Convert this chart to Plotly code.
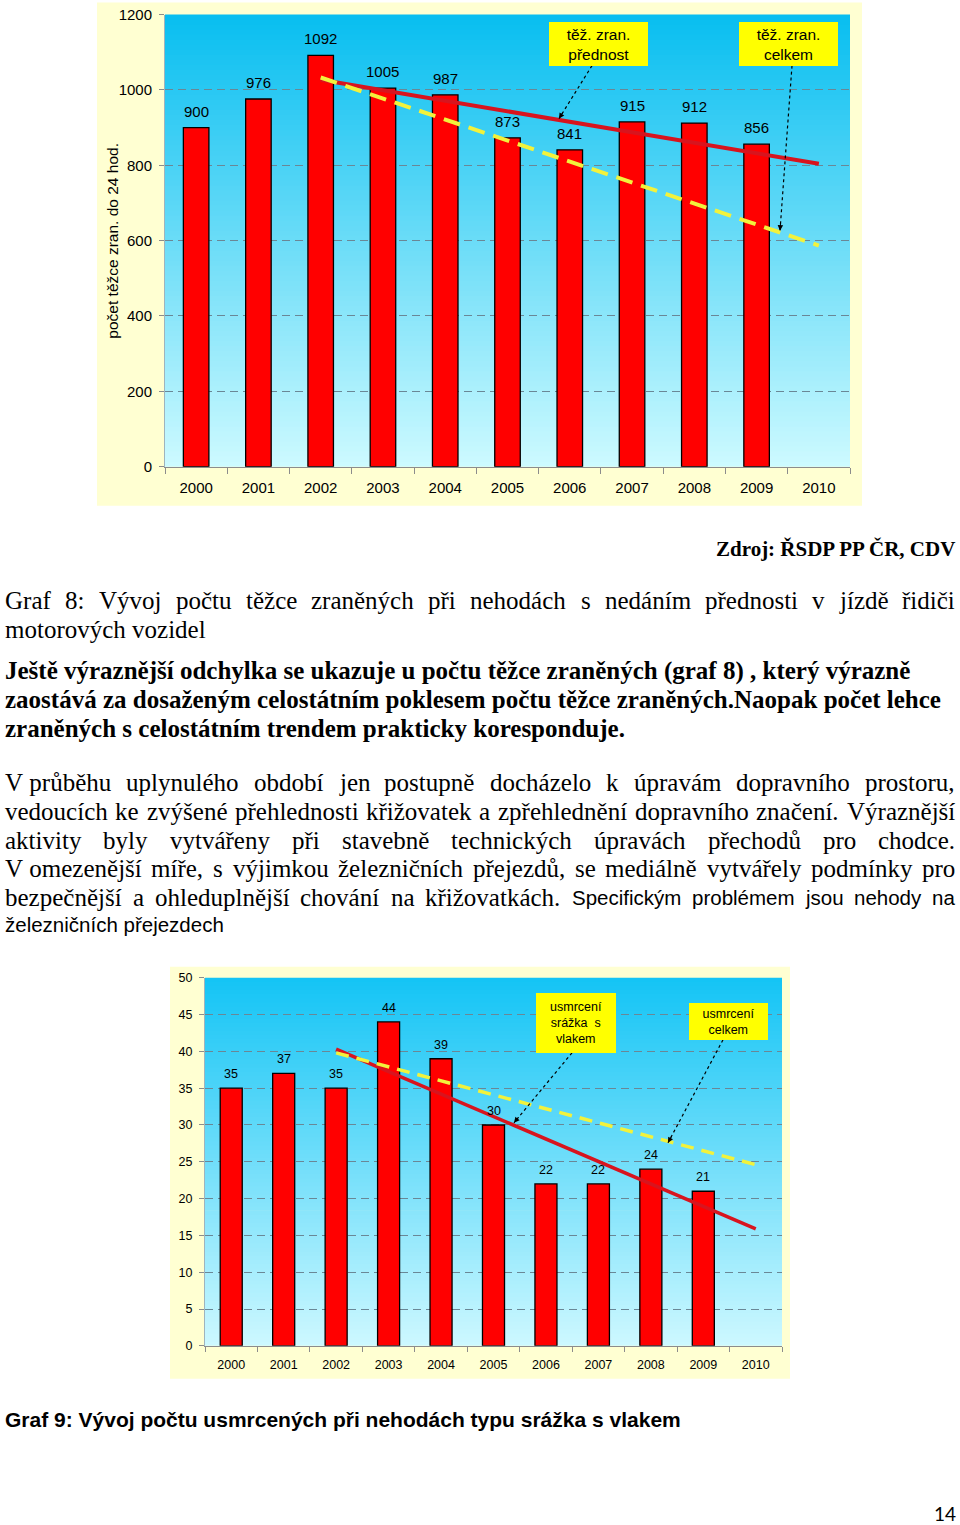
import unicodedata
import plotly.graph_objects as go

# page geometry: the rendered page places the figure about 8 px lower and
# slightly compressed vertically; py() compensates for that.
W, FIG_H = 960, 1541
OFF, SCALE = 8.4, 0.9888

# ---------------- data ----------------
years = [str(y) for y in range(2000, 2011)]
bar_years = years[:10]
y1_ticks = [0, 200, 400, 600, 800, 1000, 1200]
tezce_zraneni_prednost = [900, 976, 1092, 1005, 987, 873, 841, 915, 912, 856]
trend_years = ["2002", "2010"]
trend1_prednost = [1027, 804]
trend1_celkem = [1033, 587]

y2_ticks = [0, 5, 10, 15, 20, 25, 30, 35, 40, 45, 50]
usmrceni_srazka_vlak = [35, 37, 35, 44, 39, 30, 22, 22, 24, 21]
trend2_vlak = [40.3, 15.9]
trend2_celkem = [39.8, 24.6]

# ---------------- text ----------------
zdroj = "Zdroj: ŘSDP PP ČR, CDV"
caption8 = ["Graf 8: Vývoj počtu těžce zraněných při nehodách s nedáním přednosti v jízdě řidiči",
            "motorových vozidel"]
bold_para = ["Ještě výraznější odchylka se ukazuje u počtu těžce zraněných (graf 8) , který výrazně",
             "zaostává za dosaženým celostátním poklesem počtu těžce zraněných.Naopak počet lehce",
             "zraněných s celostátním trendem prakticky koresponduje."]
para = [
    [("V\u00a0průběhu uplynulého období jen postupně docházelo k úpravám dopravního prostoru,", "serif")],
    [("vedoucích ke zvýšené přehlednosti křižovatek a zpřehlednění dopravního značení. Výraznější", "serif")],
    [("aktivity byly vytvářeny při stavebně technických úpravách přechodů pro chodce.", "serif")],
    [("V\u00a0omezenější míře, s výjimkou železničních přejezdů, se mediálně vytvářely podmínky pro", "serif")],
    [("bezpečnější a ohleduplnější chování na křižovatkách.", "serif"),
     ("Specifickým problémem jsou nehody na", "sans")],
    [("železničních přejezdech", "sans")],
]
caption9 = "Graf 9: Vývoj počtu usmrcených při nehodách typu srážka s vlakem"
page_no = "14"

SERIF = "Liberation Serif, Times New Roman, serif"
SANS = "Liberation Sans, Arial, sans-serif"


def px(x):
    return x / W


def py(y):
    return 1 - ((y - OFF) / SCALE) / FIG_H


# approximate glyph widths (per 1000 em) for justification
LOW = "abcdefghijklmnopqrstuvwxyz"
UP = "ABCDEFGHIJKLMNOPQRSTUVWXYZ"
TIMES = dict(zip(LOW, [444, 500, 444, 500, 444, 333, 500, 500, 278, 278, 500, 278, 778, 500, 500, 500, 500, 333, 389, 278, 500, 500, 722, 500, 500, 444]))
TIMES.update(zip(UP, [722, 667, 667, 722, 611, 556, 722, 722, 333, 389, 722, 611, 889, 722, 722, 556, 722, 667, 556, 611, 722, 722, 944, 722, 722, 611]))
TIMES.update({" ": 250, "\u00a0": 250, ".": 250, ",": 250, ":": 278, ";": 278, "(": 333, ")": 333, "-": 333})
TIMES.update({d: 500 for d in "0123456789"})
ARIAL = dict(zip(LOW, [556, 556, 500, 556, 556, 278, 556, 556, 222, 222, 500, 222, 833, 556, 556, 556, 556, 333, 500, 278, 556, 500, 722, 500, 500, 500]))
ARIAL.update(zip(UP, [667, 667, 722, 722, 667, 611, 778, 722, 278, 500, 667, 556, 833, 722, 778, 667, 778, 722, 667, 611, 722, 667, 944, 667, 667, 611]))
ARIAL.update({" ": 278, "\u00a0": 278, ".": 278, ",": 278, ":": 278, "(": 333, ")": 333, "-": 333})
ARIAL.update({d: 556 for d in "0123456789"})

STYLES = {"serif": (SERIF, 25, TIMES), "sans": (SANS, 20.5, ARIAL)}


def tw(s, table, size):
    tot = 0
    for ch in s:
        b = unicodedata.normalize("NFD", ch)[0]
        tot += table.get(b, 500)
    return tot / 1000 * size


annotations = []
shapes = []


def add_text(text, x, y, family, size, xanchor="left", bold=False):
    annotations.append(dict(
        text=f"<b>{text}</b>" if bold else text, x=px(x), y=py(y), xref="paper", yref="paper",
        xanchor=xanchor, yanchor="middle", showarrow=False, borderpad=0, borderwidth=0,
        font=dict(family=family, size=size, color="black")))


def add_justified(segments, y, x0=5, x1=955, justify=True):
    words = []
    for text, style in segments:
        fam, size, table = STYLES[style]
        for w in text.split(" "):
            words.append((w, fam, size, tw(w, table, size)))
    if not justify:
        x = x0
        for text, style in segments:
            fam, size, table = STYLES[style]
            add_text(text, x, y, fam, size)
            x += tw(text + " ", table, size)
        return
    total = sum(w[3] for w in words)
    gap = (x1 - x0 - total) / (len(words) - 1)
    x = x0
    for i, (w, fam, size, wid) in enumerate(words):
        if i == len(words) - 1:
            add_text(w, x1, y, fam, size, xanchor="right")
        else:
            add_text(w, x, y, fam, size)
        x += wid + gap


# ---------------- figure ----------------
fig = go.Figure()

BAR_STYLE = dict(color="#FF0000", line=dict(color="#000000", width=1.3))
RED = "#D8141E"
YEL = "#F2F23C"

fig.add_trace(go.Bar(x=bar_years, y=tezce_zraneni_prednost, width=0.41, marker=BAR_STYLE,
                     xaxis="x", yaxis="y", hoverinfo="skip"))
fig.add_trace(go.Scatter(x=trend_years, y=trend1_prednost, mode="lines",
                         line=dict(color=RED, width=4), xaxis="x", yaxis="y", hoverinfo="skip"))
fig.add_trace(go.Scatter(x=trend_years, y=trend1_celkem, mode="lines",
                         line=dict(color=YEL, width=4, dash="17px,9px"), xaxis="x", yaxis="y", hoverinfo="skip"))

fig.add_trace(go.Bar(x=bar_years, y=usmrceni_srazka_vlak, width=0.42, marker=BAR_STYLE,
                     xaxis="x2", yaxis="y2", hoverinfo="skip"))
fig.add_trace(go.Scatter(x=trend_years, y=trend2_vlak, mode="lines",
                         line=dict(color=RED, width=3.5), xaxis="x2", yaxis="y2", hoverinfo="skip"))
fig.add_trace(go.Scatter(x=trend_years, y=trend2_celkem, mode="lines",
                         line=dict(color=YEL, width=3.5, dash="13px,8px"), xaxis="x2", yaxis="y2", hoverinfo="skip"))

# data labels (category index positions)
for i, v in enumerate(tezce_zraneni_prednost):
    annotations.append(dict(text=str(v), x=i, y=v, xref="x", yref="y", yshift=16.5,
                            showarrow=False, yanchor="middle",
                            font=dict(family=SANS, size=15, color="black")))
for i, v in enumerate(usmrceni_srazka_vlak):
    annotations.append(dict(text=str(v), x=i, y=v, xref="x2", yref="y2", yshift=14,
                            showarrow=False, yanchor="middle",
                            font=dict(family=SANS, size=12.5, color="black")))

# outer panels
shapes.append(dict(type="rect", xref="paper", yref="paper", x0=px(97), x1=px(862), y0=py(505), y1=py(2),
                   fillcolor="#FFFFD2", line=dict(width=0), layer="below"))
shapes.append(dict(type="rect", xref="paper", yref="paper", x0=px(170), x1=px(790), y0=py(1378), y1=py(966),
                   fillcolor="#FFFFD2", line=dict(width=0), layer="below"))


def gradient(xref, yref, top, bot, n=90):
    for i in range(n):
        t = (i + 0.5) / n  # 0 bottom -> 1 top
        c = tuple(round(bot[k] + (top[k] - bot[k]) * t) for k in range(3))
        shapes.append(dict(type="rect", xref=xref, yref=yref, x0=0, x1=1,
                           y0=i / n, y1=min(1, (i + 1) / n + 0.002),
                           fillcolor="rgb(%d,%d,%d)" % c, line=dict(width=0), layer="below"))


gradient("x domain", "y domain", (8, 190, 240), (205, 250, 255))
gradient("x2 domain", "y2 domain", (20, 196, 245), (205, 248, 255))


# yellow legend boxes
def box(text, x0, x1, y0, y1, size):
    annotations.append(dict(text=text, x=px((x0 + x1) / 2), y=py((y0 + y1) / 2), xref="paper", yref="paper",
                            xanchor="center", yanchor="middle", showarrow=False, bgcolor="#FFFF00",
                            width=x1 - x0, height=(y1 - y0) / SCALE, borderpad=0, borderwidth=0,
                            font=dict(family=SANS, size=size, color="black")))


def arrow(xt, yt, xh, yh):
    shapes.append(dict(type="line", xref="paper", yref="paper", x0=px(xt), y0=py(yt), x1=px(xh), y1=py(yh),
                       line=dict(color="black", width=1.2, dash="dot")))
    dx, dy = xt - xh, yt - yh
    L = (dx * dx + dy * dy) ** 0.5
    annotations.append(dict(text="", x=px(xh), y=py(yh), xref="paper", yref="paper", showarrow=True,
                            ax=dx / L * 9, ay=dy / L * 9, arrowhead=2, arrowsize=1.1, arrowwidth=1,
                            arrowcolor="black", standoff=0))


box("těž. zran.<br>přednost", 549, 648, 21, 65, 15.5)
box("těž. zran.<br>celkem", 739, 838, 21, 65, 15.5)
arrow(592, 65, 559, 118)
arrow(792, 65, 780, 230)

box("usmrcení<br>srážka\u00a0 s<br>vlakem", 536, 616, 993, 1052, 12.5)
box("usmrcení<br>celkem", 689, 768, 1002, 1039, 12.5)
arrow(572, 1052, 514, 1122)
arrow(723, 1039, 668, 1142)

# y axis title of chart 1
annotations.append(dict(text="počet těžce zran. do 24 hod.", x=px(113), y=py(240), xref="paper", yref="paper",
                        textangle=-90, showarrow=False, xanchor="center", yanchor="middle",
                        font=dict(family=SANS, size=15.5, color="black")))

# page text
add_text(zdroj, 955, 548, SERIF, 21, xanchor="right", bold=True)
add_justified([(caption8[0], "serif")], 600)
add_text(caption8[1], 5, 629, SERIF, 25)
for i, line in enumerate(bold_para):
    add_text(line, 5, 670 + i * 29, SERIF, 25, bold=True)
para_y = [782, 811, 840, 868, 897, 924]
for i, segs in enumerate(para):
    add_justified(segs, para_y[i], justify=(i < len(para) - 1))
add_text(caption9, 5, 1419, SANS, 21, bold=True)
add_text(page_no, 945, 1513, "Lato, Carlito, sans-serif", 19, xanchor="center")

AX_GRAY = "#8c8c8c"
GRID = "#6a8796"


def xaxis(dom, anchor, size, tlen, stand):
    return dict(domain=dom, anchor=anchor, type="category", categoryorder="array", categoryarray=years,
                range=[-0.5, 10.5], tickson="boundaries", ticks="outside", ticklen=tlen, tickcolor=AX_GRAY,
                showline=True, linecolor=AX_GRAY, linewidth=1, showgrid=False, zeroline=False,
                tickfont=dict(family=SANS, size=size, color="black"), ticklabelstandoff=stand, fixedrange=True)


def yaxis(dom, anchor, rng, tv, size):
    return dict(domain=dom, anchor=anchor, range=rng, tickmode="array", tickvals=tv, showgrid=True,
                gridcolor=GRID, griddash="8px,5px", gridwidth=1, zeroline=False, showline=True,
                linecolor="#9fb4bd", linewidth=1, ticks="outside", ticklen=5, tickcolor=AX_GRAY,
                tickfont=dict(family=SANS, size=size, color="black"), ticklabelstandoff=4, fixedrange=True)


fig.update_layout(
    width=W, height=FIG_H, margin=dict(l=0, r=0, t=0, b=0), autosize=False,
    paper_bgcolor="white", plot_bgcolor="rgba(0,0,0,0)", showlegend=False,
    xaxis=xaxis([px(165), px(850)], "y", 15, 6, 7),
    yaxis=yaxis([py(466), py(14)], "x", [0, 1200], y1_ticks, 15),
    xaxis2=xaxis([px(205), px(782)], "y2", 12.5, 5, 7),
    yaxis2=yaxis([py(1345), py(977)], "x2", [0, 50], y2_ticks, 12.5),
    annotations=annotations, shapes=shapes,
)

fig.write_html("out.html")
